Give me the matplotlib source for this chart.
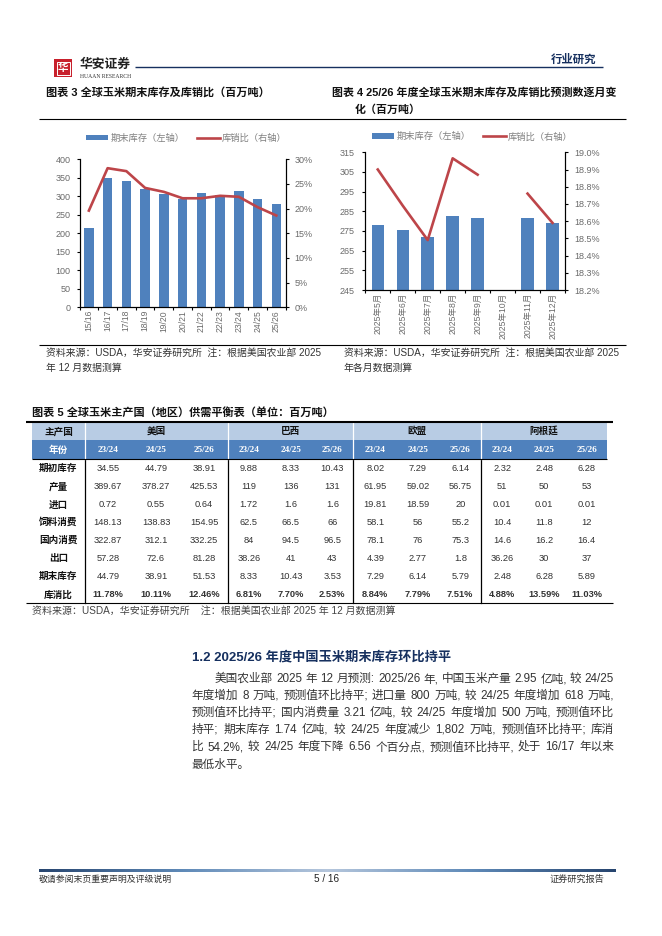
"""Report page: global corn stocks charts and supply/demand table."""
import matplotlib
matplotlib.use("Agg")
import matplotlib.pyplot as plt
from matplotlib.patches import Rectangle
from matplotlib.ticker import FixedLocator, NullFormatter
import numpy as np

plt.rcParams["font.family"] = ["Liberation Sans", "Noto Sans CJK SC"]

# chart 3
years = ["15/16", "16/17", "17/18", "18/19", "19/20", "20/21", "21/22",
         "22/23", "23/24", "24/25", "25/26"]
stock_year = [213, 350, 341, 321, 305, 294, 310, 304, 314, 292, 278]
ratio_year = [19.6, 28.2, 27.6, 24.2, 23.4, 22.1, 22.1, 22.6, 22.4, 20.3, 18.6]

# chart 4 (no data for October)
months = ["2025年5月", "2025年6月", "2025年7月", "2025年8月", "2025年9月",
          "2025年10月", "2025年11月", "2025年12月"]
stock_month = [278, 275.3, 272, 282.6, 281.5, np.nan, 281.5, 279.2]
ratio_month = [18.90, 18.69, 18.49, 18.965, 18.87, np.nan, 18.76, 18.59]

# table 5
countries = ["美国", "巴西", "欧盟", "阿根廷"]
seasons = ["23/24", "24/25", "25/26"]
row_names = ["期初库存", "产量", "进口", "饲料消费", "国内消费", "出口", "期末库存", "库消比"]
begin_stock = ["34.55", "44.79", "38.91", "9.88", "8.33", "10.43",
               "8.02", "7.29", "6.14", "2.32", "2.48", "6.28"]
output = ["389.67", "378.27", "425.53", "119", "136", "131",
          "61.95", "59.02", "56.75", "51", "50", "53"]
imports = ["0.72", "0.55", "0.64", "1.72", "1.6", "1.6",
           "19.81", "18.59", "20", "0.01", "0.01", "0.01"]
feed_use = ["148.13", "138.83", "154.95", "62.5", "66.5", "66",
            "58.1", "56", "55.2", "10.4", "11.8", "12"]
domestic_use = ["322.87", "312.1", "332.25", "84", "94.5", "96.5",
                "78.1", "76", "75.3", "14.6", "16.2", "16.4"]
exports = ["57.28", "72.6", "81.28", "38.26", "41", "43",
           "4.39", "2.77", "1.8", "36.26", "30", "37"]
end_stock = ["44.79", "38.91", "51.53", "8.33", "10.43", "3.53",
             "7.29", "6.14", "5.79", "2.48", "6.28", "5.89"]
stock_use = ["11.78%", "10.11%", "12.46%", "6.81%", "7.70%", "2.53%",
             "8.84%", "7.79%", "7.51%", "4.88%", "13.59%", "11.03%"]
table_rows = [begin_stock, output, imports, feed_use, domestic_use, exports,
              end_stock, stock_use]

body_lines = [
    "美国农业部 2025 年 12 月预测: 2025/26 年, 中国玉米产量 2.95 亿吨, 较 24/25",
    "年度增加 8 万吨, 预测值环比持平; 进口量 800 万吨, 较 24/25 年度增加 618 万吨,",
    "预测值环比持平; 国内消费量 3.21 亿吨, 较 24/25 年度增加 500 万吨, 预测值环比",
    "持平; 期末库存 1.74 亿吨, 较 24/25 年度减少 1,802 万吨, 预测值环比持平; 库消",
    "比 54.2%, 较 24/25 年度下降 6.56 个百分点, 预测值环比持平, 处于 16/17 年以来",
    "最低水平。",
]

W, H = 662, 936
BLUE, RED, GREY = "#4f81bd", "#bd4549", "#6b6b6b"
NAVY = "#16305f"

fig = plt.figure(figsize=(W / 100, H / 100), dpi=100)
page = fig.add_axes([0, 0, 1, 1])
page.set_xlim(0, W); page.set_ylim(H, 0); page.axis("off")


def px_axes(l, t, r, b):
    return fig.add_axes([l / W, 1 - b / H, (r - l) / W, (b - t) / H])


def txt(x, y, s, size=7.5, color="#222222", ha="left", **kw):
    return page.text(x, y, s, fontsize=size, color=color, ha=ha, va="center", **kw)


def rule(x0, x1, y, lw=0.8, color="black"):
    page.plot([x0, x1], [y, y], color=color, lw=lw, solid_capstyle="butt")


def justified(x0, x1, y, line, size):
    # spread the chunks of a line so that it fills x0..x1
    rend = fig.canvas.get_renderer()
    parts = line.split(" ")
    items = [txt(x0, y, p, size=size, color="#333333") for p in parts]
    widths = [t.get_window_extent(rend).width for t in items]
    gap = (x1 - x0 - sum(widths)) / (len(parts) - 1)
    x = x0
    for t, w in zip(items, widths):
        t.set_x(x)
        x += w + gap


def combo(axbox, cats, bars, line, yticks, rticks, rfmt, rlim, legend_xy, lpad):
    ax = px_axes(*axbox)
    xs = np.arange(len(cats))
    h_bar = ax.bar(xs, bars, width=0.5, color=BLUE, label="期末库存（左轴）")
    ax.set_xlim(-0.5, len(cats) - 0.5)
    ax.set_ylim(yticks[0], yticks[-1])
    ax.set_yticks(yticks)
    ax.xaxis.set_major_formatter(NullFormatter())
    for x, c in zip(xs, cats):
        ax.annotate(c, (x, 0), xycoords=("data", "axes fraction"), xytext=(0, -2),
                    textcoords="offset points", rotation=90, ha="center", va="top",
                    fontsize=6.2, color=GREY)
    ax.xaxis.set_major_locator(FixedLocator(np.arange(len(cats) + 1) - 0.5))
    ax.tick_params(axis="both", length=2.5, width=0.8, color="black",
                   labelsize=6.5, labelcolor=GREY)
    ax.tick_params(axis="y", pad=lpad)
    ax.patch.set_alpha(0)
    ax2 = ax.twinx()
    h_line, = ax2.plot(xs, line, color=RED, lw=1.9, label="库销比（右轴）")
    ax2.set_ylim(*rlim)
    ax2.set_yticks(rticks)
    ax2.set_yticklabels([rfmt.format(v) for v in rticks])
    ax2.tick_params(axis="y", length=2.5, width=0.8, color="black",
                    labelsize=6.5, labelcolor=GREY, pad=4)
    for a in (ax, ax2):
        a.spines["top"].set_visible(False)
        for s in ("left", "right", "bottom"):
            a.spines[s].set_linewidth(0.8)
    fig.legend(handles=[h_bar, h_line], loc="center left",
               bbox_to_anchor=(legend_xy[0] / W, 1 - legend_xy[1] / H), ncol=2,
               frameon=False, fontsize=6.7, labelcolor="#808080", handlelength=2.4,
               handleheight=0.55, handletextpad=0.2, columnspacing=1.4,
               borderpad=0, borderaxespad=0)


# page header
page.add_patch(Rectangle((54, 59), 18, 18, fc="#c8202c", ec="none"))
page.add_patch(Rectangle((56.5, 61.5), 13, 13, fc="none", ec="white", lw=0.7))
txt(63, 68, "华", size=7.5, color="white", ha="center", fontweight="bold")
txt(80, 65, "华安证券", size=9.2, color="#222222", fontweight="bold")
txt(79.5, 77, "HUAAN RESEARCH", size=4.1, color="#333333", family="Liberation Serif")
rule(135, 603, 66.5, lw=1.0, color=NAVY)
txt(551, 59, "行业研究", size=8.2, color=NAVY, fontweight="bold")

# chart titles and rules
txt(46, 92, "图表 3 全球玉米期末库存及库销比（百万吨）", size=8.0, color="#111111", fontweight="bold")
txt(332, 92, "图表 4 25/26 年度全球玉米期末库存及库销比预测数逐月变", size=7.9,
    color="#111111", fontweight="bold")
txt(355, 110, "化（百万吨）", size=7.9, color="#111111", fontweight="bold")
rule(39, 626, 119.3)
rule(39, 626, 345)

combo((79.5, 159.3, 285.7, 307.3), years, stock_year, ratio_year,
      list(range(0, 401, 50)), [0, 5, 10, 15, 20, 25, 30], "{:.0f}%", (0, 30),
      (86, 138.3), 4)
combo((365.3, 152.3, 565, 290), months, stock_month, ratio_month,
      list(range(245, 316, 10)), [18.2, 18.3, 18.4, 18.5, 18.6, 18.7, 18.8, 18.9, 19.0],
      "{:.1f}%", (18.2, 19.0), (372, 136.8), 5.5)

txt(46, 353, "资料来源：USDA，华安证券研究所  注：根据美国农业部 2025", size=7.1, color="#333333")
txt(46, 368, "年 12 月数据测算", size=7.1, color="#333333")
txt(344, 353, "资料来源：USDA，华安证券研究所  注：根据美国农业部 2025", size=7.15, color="#333333")
txt(344, 368, "年各月数据测算", size=7.15, color="#333333")

# table
txt(32, 412, "图表 5 全球玉米主产国（地区）供需平衡表（单位：百万吨）", size=8.0,
    color="#111111", fontweight="bold")
col_x = [108, 156, 204, 248.7, 290.7, 332.3, 375.3, 418, 460.3, 502.3, 544.3, 586.7]
group_x = [85, 228.3, 353.3, 481.3, 606.7]
row_top, row_mid, row_hdr, row_h = 422, 440.3, 459.3, 18
page.add_patch(Rectangle((32, row_top), 574.7, row_mid - row_top, fc="#b8cce4", ec="none"))
page.add_patch(Rectangle((32, row_mid), 574.7, row_hdr - row_mid, fc=BLUE, ec="none"))
txt(58.5, (row_top + row_mid) / 2, "主产国", size=6.9, ha="center", color="#111111", fontweight="bold")
txt(58.5, (row_mid + row_hdr) / 2, "年份", size=6.9, ha="center", color="white", fontweight="bold")
for i, name in enumerate(countries):
    txt((group_x[i] + group_x[i + 1]) / 2, (row_top + row_mid) / 2, name, size=6.9,
        ha="center", color="#111111", fontweight="bold")
for i, x in enumerate(col_x):
    txt(x, (row_mid + row_hdr) / 2, seasons[i % 3], size=6.6, ha="center", color="white",
        fontweight="bold", family="Liberation Serif")
for r, (name, vals) in enumerate(zip(row_names, table_rows)):
    y = row_hdr + row_h * (r + 0.5)
    last = r == len(row_names) - 1
    txt(58.5, y, name, size=6.9, ha="center", color="#111111", fontweight="bold")
    for x, v in zip(col_x, vals):
        txt(x, y, v, size=6.7, ha="center", color="#333333",
            fontweight="bold" if last else "normal")
for x in group_x[:4]:
    page.plot([x, x], [row_hdr, row_hdr + 8 * row_h], color="black", lw=0.9)
    page.plot([x, x], [row_top, row_hdr], color="white", lw=0.9)
rule(26, 612.7, row_top, lw=1.5)
rule(32, 606.7, row_hdr, lw=0.8)
rule(26, 612.7, row_hdr + 8 * row_h, lw=0.8)
txt(32, 611, "资料来源：USDA，华安证券研究所    注：根据美国农业部 2025 年 12 月数据测算",
    size=7.2, color="#444444")

# section text
txt(191.7, 656.7, "1.2 2025/26 年度中国玉米期末库存环比持平", size=9.5, color=NAVY, fontweight="bold")
line_y = [679, 696, 712.7, 730, 747, 765]
fig.canvas.draw()
for i, (y, line) in enumerate(zip(line_y, body_lines)):
    if i == len(body_lines) - 1:
        txt(191.7, y, line, size=8.4, color="#333333")
    else:
        justified(215 if i == 0 else 191.7, 614, y, line, 8.4)

# footer
grad = np.abs(np.linspace(-1, 1, 400)).reshape(1, -1)
page.imshow(grad, extent=(39, 616, 872, 869), cmap=matplotlib.colors.LinearSegmentedColormap.from_list(
    "band", ["#b5c6dc", "#5f8ab8", "#27456f"]), aspect="auto", zorder=2)
page.set_xlim(0, W); page.set_ylim(H, 0)
txt(39, 879.5, "敬请参阅末页重要声明及评级说明", size=6.4, color="#333333")
txt(327, 879.5, "5 / 16", size=7.2, color="#222222", ha="center")
txt(604, 879.5, "证券研究报告", size=6.6, color="#333333", ha="right")

fig.savefig("out.png", dpi=100)
